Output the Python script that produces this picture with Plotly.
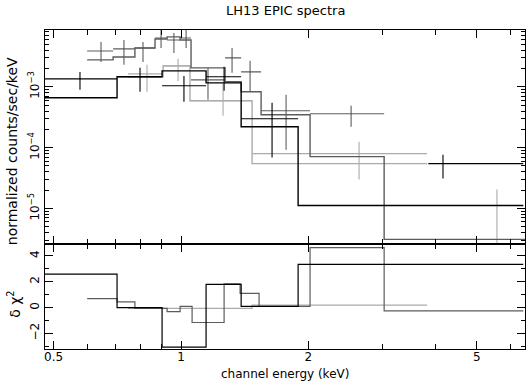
import plotly.graph_objects as go
from plotly.subplots import make_subplots

# Data -------------------------------------------------------------------
# black data set
blk_e = [0.577, 0.800, 1.016, 1.264, 1.641, 4.16]
blk_elo = [0.477, 0.706, 0.902, 1.146, 1.387, 3.84]
blk_ehi = [0.706, 0.902, 1.146, 1.387, 1.891, 6.44]
blk_rate = [1.35e-3, 1.46e-3, 1.04e-3, 1.46e-3, 2.99e-4, 5.47e-5]
blk_rate_hi = [1.76e-3, 2.05e-3, 1.51e-3, 2.13e-3, 5.47e-4, 7.67e-5]
blk_rate_lo = [8.93e-4, 8.28e-4, 5.67e-4, 8.60e-4, 6.86e-5, 3.10e-5]
blk_mod_edges = [0.477, 0.706, 0.902, 1.146, 1.387, 1.891, 6.44]
blk_mod = [6.6e-4, 1.46e-3, 1.83e-3, 1.16e-3, 2.21e-4, 1.12e-5]
blk_res = [2.6, 0.0, -3.05, 1.8, 0.1, 3.35]

# dark grey data set
dg_e = [0.647, 0.733, 0.813, 0.897, 0.962, 1.028, 1.158, 1.320, 1.456, 1.771, 2.523]
dg_elo = [0.600, 0.691, 0.778, 0.868, 0.927, 0.995, 1.056, 1.271, 1.387, 1.546, 2.018]
dg_ehi = [0.691, 0.778, 0.868, 0.927, 0.995, 1.056, 1.271, 1.387, 1.546, 2.018, 3.02]
dg_rate = [3.89e-3, 4.20e-3, 4.35e-3, 6.35e-3, 5.89e-3, 6.35e-3, 1.30e-3, 2.99e-3, 1.76e-3, 4.05e-4, 3.61e-4]
dg_rate_hi = [5.47e-3, 5.89e-3, 5.47e-3, 8.59e-3, 7.67e-3, 9.27e-3, 2.05e-3, 4.35e-3, 2.67e-3, 7.39e-4, 4.89e-4]
dg_rate_lo = [2.57e-3, 2.30e-3, 2.57e-3, 4.35e-3, 3.61e-3, 4.35e-3, 6.12e-4, 1.70e-3, 8.28e-4, 9.27e-5, 2.21e-4]
dg_mod_edges = [0.600, 0.691, 0.778, 0.868, 0.927, 0.995, 1.056, 1.271, 1.387, 1.546, 2.018, 3.02, 6.51]
dg_mod = [2.77e-3, 3.10e-3, 4.35e-3, 6.12e-3, 6.61e-3, 5.89e-3, 2.05e-3, 1.21e-3, 8.28e-4, 3.47e-4, 7.11e-5, 3.10e-6]
dg_res_edges = [0.600, 0.706, 0.778, 0.927, 0.995, 1.062, 1.264, 1.379, 1.529, 2.018, 3.02, 6.44]
dg_res = [0.7, 0.45, -0.05, -0.3, 0.1, -1.15, 1.85, 1.1, 0.1, 4.65, -0.25]

# light grey data set
lg_e = [0.831, 0.984, 1.257, 2.635, 5.58]
lg_elo = [0.749, 0.907, 1.050, 1.472, 3.815]
lg_ehi = [0.907, 1.050, 1.472, 3.815, 7.3]
lg_rate = [1.63e-3, 2.21e-3, 5.90e-4, 7.98e-5, 1.5e-6]
lg_rate_hi = [2.30e-3, 2.88e-3, 1.12e-3, 1.25e-4, 2.05e-5]
lg_rate_lo = [8.28e-4, 1.25e-3, 3.35e-4, 2.99e-5, 1e-7]
lg_mod_edges = [0.749, 0.907, 1.050, 1.472, 3.815]
lg_mod = [1.46e-3, 2.21e-3, 5.90e-4, 5.47e-5]
lg_res = [-0.05, -0.05, -0.05, 0.2]

BLACK = "#000000"
DGREY = "#5c5c5c"
LGREY = "#ababab"
FONT = "DejaVu Sans"

fig = make_subplots(rows=2, cols=1, shared_xaxes=True, vertical_spacing=0,
                    row_heights=[0.672, 0.328])


def add_set(e, elo, ehi, r, rhi, rlo, edges, mod, res_edges, res, col):
    # data crosses
    fig.add_trace(go.Scatter(
        x=e, y=r, mode="markers",
        marker=dict(size=1, color=col),
        error_x=dict(type="data", symmetric=False,
                     array=[h - c for h, c in zip(ehi, e)],
                     arrayminus=[c - l for c, l in zip(e, elo)],
                     width=0, thickness=1.1, color=col),
        error_y=dict(type="data", symmetric=False,
                     array=[h - c for h, c in zip(rhi, r)],
                     arrayminus=[c - l for c, l in zip(r, rlo)],
                     width=0, thickness=1.1, color=col),
        showlegend=False, hoverinfo="skip"), row=1, col=1)
    # folded model, histogram style
    fig.add_trace(go.Scatter(
        x=edges, y=mod + mod[-1:], mode="lines", line_shape="hv",
        line=dict(color=col, width=1.4), showlegend=False, hoverinfo="skip"),
        row=1, col=1)
    # residuals
    fig.add_trace(go.Scatter(
        x=res_edges, y=res + res[-1:], mode="lines", line_shape="hv",
        line=dict(color=col, width=1.2), showlegend=False, hoverinfo="skip"),
        row=2, col=1)


add_set(lg_e, lg_elo, lg_ehi, lg_rate, lg_rate_hi, lg_rate_lo,
        lg_mod_edges, lg_mod, lg_mod_edges, lg_res, LGREY)
add_set(dg_e, dg_elo, dg_ehi, dg_rate, dg_rate_hi, dg_rate_lo,
        dg_mod_edges, dg_mod, dg_res_edges, dg_res, DGREY)
add_set(blk_e, blk_elo, blk_ehi, blk_rate, blk_rate_hi, blk_rate_lo,
        blk_mod_edges, blk_mod, blk_mod_edges, blk_res, BLACK)

axis_common = dict(showline=True, linecolor="black", linewidth=1.2, mirror="allticks",
                   ticks="inside", tickcolor="black", ticklen=8, tickwidth=1,
                   showgrid=False, zeroline=False, automargin=False,
                   tickfont=dict(family=FONT, size=12, color="black"))

x_minor = [0.6, 0.7, 0.8, 0.9, 3, 4, 6]
for r in (1, 2):
    fig.update_xaxes(type="log", range=[-0.3215, 0.8129],
                     tickvals=[0.5, 1, 2, 5], ticktext=["0.5", "1", "2", "5"],
                     minor=dict(tickvals=x_minor, ticks="inside", ticklen=5,
                                tickcolor="black", showgrid=False),
                     ticklabelstandoff=-4,
                     showticklabels=(r == 2), row=r, col=1, **axis_common)

y_minor = [m * 10 ** p for p in (-6, -5, -4, -3) for m in range(2, 10)]
fig.update_yaxes(type="log", range=[-5.59, -2.066],
                 tickvals=[1e-5, 1e-4, 1e-3],
                 ticktext=["10<sup>\u22125</sup>", "10<sup>\u22124</sup>", "10<sup>\u22123</sup>"],
                 tickangle=-90,
                 minor=dict(tickvals=y_minor, ticks="inside", ticklen=4,
                            tickcolor="black", showgrid=False),
                 row=1, col=1, **axis_common)
fig.update_yaxes(range=[-3.2, 4.9], tickvals=[-2, 0, 2, 4],
                 ticktext=["\u22122", "0", "2", "4"], tickangle=-90,
                 minor=dict(tickvals=[-3, -1, 1, 3], ticks="inside", ticklen=4,
                            tickcolor="black", showgrid=False),
                 row=2, col=1, **axis_common)

fig.update_layout(
    width=530, height=382,
    margin=dict(l=45, r=5, t=30, b=33),
    paper_bgcolor="white", plot_bgcolor="white",
    font=dict(family=FONT, size=12, color="black"),
    annotations=[
        dict(text="LH13 EPIC spectra", xref="paper", yref="paper", x=0.5, y=1,
             yanchor="bottom", yshift=10, showarrow=False,
             font=dict(family=FONT, size=13)),
        dict(text="channel energy (keV)", xref="paper", yref="paper", x=0.5, y=0,
             yanchor="top", yshift=-16, showarrow=False,
             font=dict(family=FONT, size=12)),
        dict(text="normalized counts/sec/keV", xref="paper", yref="paper",
             x=0, y=0.62, xanchor="center", xshift=-33, textangle=-90,
             showarrow=False, font=dict(family=FONT, size=14)),
        dict(text="\u03b4 \u03c7<sup>2</sup>", xref="paper", yref="paper",
             x=0, y=0.09, xanchor="center", xshift=-31, textangle=-90,
             showarrow=False, font=dict(family=FONT, size=14)),
    ],
)

fig.write_html("out.html", config={"displayModeBar": False},
               post_script="document.body.style.margin='0';")
